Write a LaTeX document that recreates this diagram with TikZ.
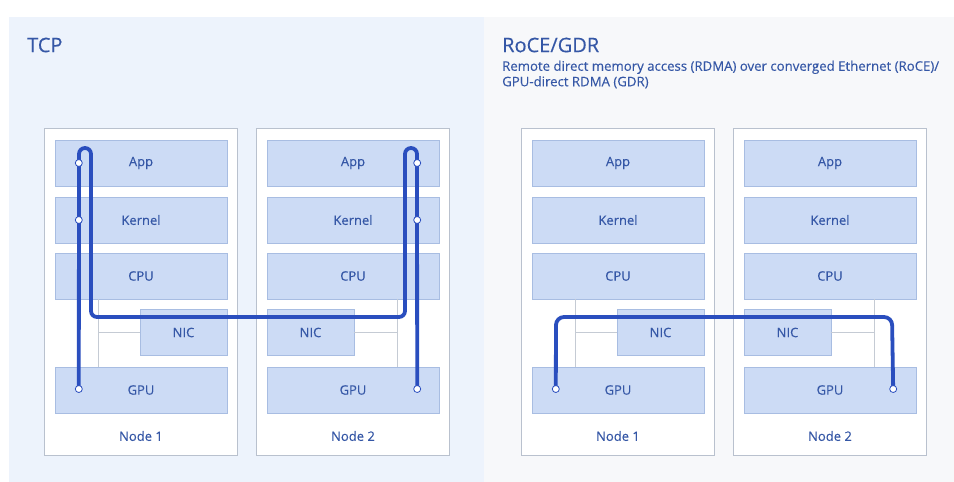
\documentclass[tikz,border=0pt]{standalone}
\usepackage{fontspec}
\setmainfont{Open Sans}[FakeBold=0.25]
\usepackage{tikz}
\usetikzlibrary{calc,positioning}
\definecolor{tcpbg}{HTML}{EDF3FC}
\definecolor{rdmabg}{HTML}{F7F8FA}
\definecolor{layerfill}{HTML}{CCDBF5}
\definecolor{layerline}{HTML}{A8BDE2}
\definecolor{boxline}{HTML}{B9C1CE}
\definecolor{linkgray}{HTML}{C5CBD4}
\definecolor{txtblue}{HTML}{3557A6}
\definecolor{routeblue}{HTML}{2A4EBE}

\begin{document}
\begin{tikzpicture}[x=1pt,y=-1pt,
  font=\fontsize{13}{15}\selectfont,
  layer/.style={draw=layerline,fill=layerfill,text=txtblue,minimum width=172pt,minimum height=46pt,inner sep=0pt},
  nicbox/.style={layer,minimum width=87pt},
  nodebox/.style={draw=boxline,fill=white,minimum width=193pt,minimum height=327pt,inner sep=0pt},
  link/.style={draw=linkgray,line width=0.8pt},
  route/.style={draw=routeblue,line width=3.8pt,line cap=round},
  portdot/.style={circle,draw=routeblue,fill=white,line width=0.8pt,minimum size=7pt,inner sep=0pt},
  title/.style={text=txtblue,font=\fontsize{20}{24}\selectfont,anchor=west,inner sep=0pt}]
\useasboundingbox (0,0) rectangle (954,482);
\fill[tcpbg] (9,17) rectangle (484,482);
\fill[rdmabg] (484,17) rectangle (954,482);

\node[title] (tcptitle) at (27,45) {TCP};
\node[title] (rdmatitle) at (502,45) {RoCE/GDR};
\node[below right=8pt and 0pt of rdmatitle.south west,anchor=north west,inner sep=0pt,align=left,text=txtblue,
  font=\fontsize{13.2}{15.5}\selectfont] (rdmasub)
  {Remote direct memory access (RDMA) over converged Ethernet (RoCE)/\\GPU-direct RDMA (GDR)};

% two panels, two servers each
\foreach \p/\dx in {t/0,r/477}{
  \node[nodebox] (\p1box) at (140.5+\dx,291.5) {};
  \node[nodebox] (\p2box) at (352.5+\dx,291.5) {};
  \foreach \lay/\txt/\y in {app/App/163,kernel/Kernel/220,cpu/CPU/276,gpu/GPU/390}{
    \node[layer] (\p1\lay) at (141+\dx,\y) {\txt};
    \node[layer] (\p2\lay) at (353+\dx,\y) {\txt};
  }
  \node[nicbox] (\p1nic) at (183.5+\dx,332.5) {NIC};
  \node[nicbox] (\p2nic) at (310.5+\dx,332.5) {NIC};
  \node[text=txtblue] (\p1label) at (141+\dx,436) {Node 1};
  \node[text=txtblue] (\p2label) at (353+\dx,436) {Node 2};
  % bus lines
  \coordinate (\p1bus) at (98+\dx,332.5);
  \coordinate (\p2bus) at (397+\dx,332.5);
  \draw[link] (\p1cpu.south -| \p1bus) -- (\p1gpu.north -| \p1bus);
  \draw[link] (\p1bus) -- (\p1nic.west);
  \draw[link] (\p2cpu.south -| \p2bus) -- (\p2gpu.north -| \p2bus);
  \draw[link] (\p2nic.east) -- (\p2bus);
}

% TCP: through every layer
\coordinate (t1gpuport) at ($(t1gpu.west)+(24,-1)$);
\coordinate (t1appport) at ($(t1app.west)+(24,0)$);
\coordinate (t1kernelport) at ($(t1kernel.west)+(24,0)$);
\coordinate (t2gpuport) at ($(t2gpu.east)+(-22,-1)$);
\coordinate (t2appport) at ($(t2app.east)+(-22,0)$);
\coordinate (t2kernelport) at ($(t2kernel.east)+(-22,0)$);
\draw[route,rounded corners=6pt] (t1gpuport) -- (79,148) -- (91,148) -- (91,317)
  -- (405,317) -- (405,148) -- (417,148) -- (t2gpuport);
\foreach \q in {t1gpu,t1app,t1kernel,t2gpu,t2app,t2kernel}
  \node[portdot] (\q dot) at (\q port) {};

% RoCE/GDR: GPU to GPU
\coordinate (r1gpuport) at ($(r1gpu.west)+(24,-1)$);
\coordinate (r2gpuport) at ($(r2gpu.east)+(-23,-1)$);
\draw[route,rounded corners=8pt] (r1gpuport) -- (556,317) -- (892,317) -- (r2gpuport);
\foreach \q in {r1gpu,r2gpu}
  \node[portdot] (\q dot) at (\q port) {};
\end{tikzpicture}
\end{document}
